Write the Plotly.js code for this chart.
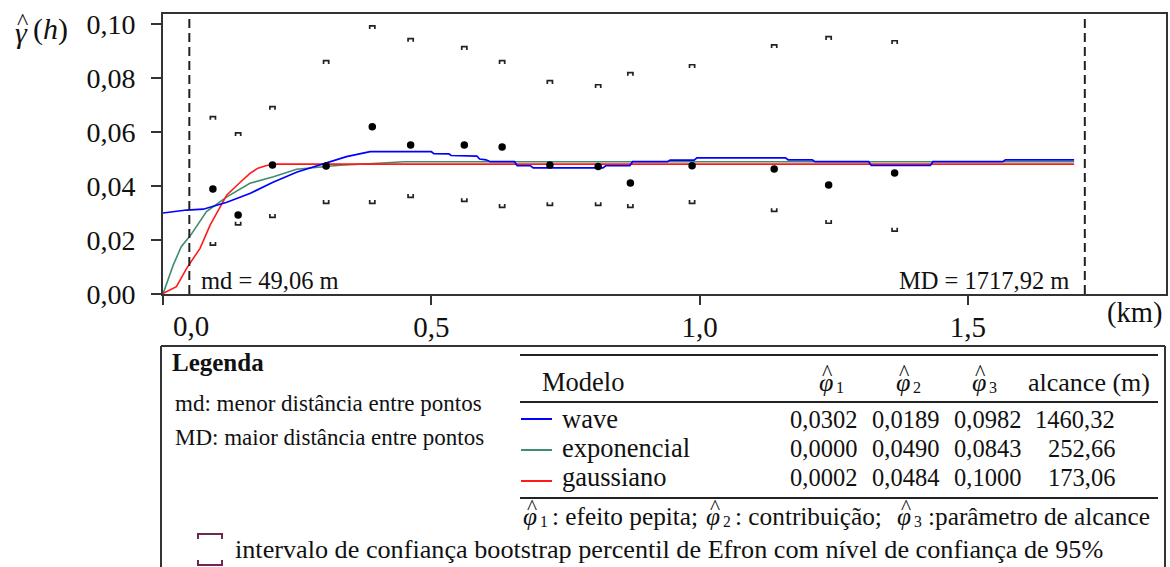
<!DOCTYPE html>
<html>
<head>
<meta charset="utf-8">
<script src="https://cdn.plot.ly/plotly-3.0.1.min.js"></script>
<style>html,body{margin:0;padding:0;background:#fff;}#chart{width:1170px;height:567px;}</style>
</head>
<body>
<div id="chart"></div>
<script>
// ---------- data ----------
const lagKm    = [0.093, 0.140, 0.204, 0.304, 0.390, 0.4615, 0.5615, 0.632, 0.721, 0.811, 0.871, 0.986, 1.139, 1.2405, 1.3635];
const semivar  = [0.0389, 0.0293, 0.0478, 0.0474, 0.0619, 0.0552, 0.0552, 0.0544, 0.0478, 0.0472, 0.0411, 0.0475, 0.0463, 0.0404, 0.0448];
const ciUpper  = [0.0657, 0.0597, 0.0694, 0.0864, 0.0993, 0.0946, 0.0916, 0.0864, 0.0790, 0.0775, 0.0820, 0.0849, 0.0923, 0.0953, 0.0938];
const ciLower  = [0.0181, 0.0256, 0.0284, 0.0336, 0.0336, 0.0358, 0.0343, 0.0321, 0.0328, 0.0328, 0.0321, 0.0336, 0.0306, 0.0262, 0.0233];

const waveX = [0.000, 0.044, 0.075, 0.119, 0.163, 0.205, 0.250, 0.305, 0.342, 0.386, 0.500, 0.505, 0.533, 0.537, 0.585, 0.590, 0.602, 0.610, 0.655, 0.660, 0.685, 0.690, 0.820, 0.825, 0.870, 0.875, 0.940, 0.945, 0.990, 0.995, 1.160, 1.165, 1.210, 1.215, 1.315, 1.320, 1.430, 1.435, 1.565, 1.570, 1.698];
const waveY = [0.0300, 0.0311, 0.0314, 0.0340, 0.0373, 0.0414, 0.0452, 0.0486, 0.0509, 0.0527, 0.0527, 0.0520, 0.0519, 0.0513, 0.0511, 0.0500, 0.0497, 0.0490, 0.0490, 0.0475, 0.0475, 0.0467, 0.0467, 0.0475, 0.0475, 0.0490, 0.0490, 0.0496, 0.0496, 0.0504, 0.0504, 0.0497, 0.0497, 0.0490, 0.0490, 0.0476, 0.0476, 0.0490, 0.0490, 0.0497, 0.0497];
const expX  = [0.000, 0.019, 0.034, 0.052, 0.081, 0.119, 0.162, 0.206, 0.249, 0.300, 0.330, 0.400, 0.450, 1.698];
const expY  = [0.0000, 0.0107, 0.0175, 0.0219, 0.0305, 0.0360, 0.0410, 0.0434, 0.0462, 0.0472, 0.0477, 0.0484, 0.0490, 0.0490];
const gauX  = [0.000, 0.025, 0.044, 0.069, 0.088, 0.106, 0.119, 0.143, 0.162, 0.177, 0.193, 0.212, 1.698];
const gauY  = [0.0002, 0.0027, 0.0095, 0.0169, 0.0256, 0.0318, 0.0367, 0.0412, 0.0447, 0.0466, 0.0476, 0.0481, 0.0481];

const mdKm = 0.04906, MDKm = 1.71792;
const mdLabel = 'md = 49,06 m', MDLabel = 'MD = 1717,92 m';

const yTickVals = [0, 0.02, 0.04, 0.06, 0.08, 0.10];
const xTickVals = [0, 0.5, 1.0, 1.5];
const xTickText = ['', '0,5', '1,0', '1,5'];
const xZeroLabel = '0,0';
const xUnit = '(km)';

const modelNames = ['wave', 'exponencial', 'gaussiano'];
const modelColors = ['#0000FF', '#3E8E6E', '#FF1A1A'];
const phi1 = ['0,0302', '0,0000', '0,0002'];
const phi2 = ['0,0189', '0,0490', '0,0484'];
const phi3 = ['0,0982', '0,0843', '0,1000'];
const alcance = ['1460,32', '252,66', '173,06'];
const phiSym = 'φ';
const headers = ['Modelo', 'alcance (m)'];
const legendTitle = 'Legenda';
const notes = ['md: menor distância entre pontos', 'MD: maior distância entre pontos'];
const footParts = [': efeito pepita;', ': contribuição;', ':parâmetro de alcance'];
const ciNote = 'intervalo de confiança bootstrap percentil de Efron com nível de confiança de 95%';

// ---------- layout helpers ----------
const L = 163, R = 1166, T = 14, B = 294, W = 1170, H = 567;
const PX = x => (x - L) / (R - L);
const PY = y => (B - y) / (B - T);
const xRange = [0, 1.8692], yRange = [0, 0.1037];
const SERIF = 'Liberation Serif';

// bracket paths built from the CI arrays
const bw = 0.0048, bh = 0.0012;
function brackets(vals, dir) {
  const xs = [], ys = [];
  lagKm.forEach((x, i) => {
    const y = vals[i];
    xs.push(x - bw, x - bw, x + bw, x + bw, null);
    ys.push(y + dir * bh, y, y, y + dir * bh, null);
  });
  return {xs, ys};
}
const up = brackets(ciUpper, -1), lo = brackets(ciLower, 1);

const traces = [
  {x: expX, y: expY, mode: 'lines', line: {color: modelColors[1], width: 1.6}, hoverinfo: 'skip'},
  {x: gauX, y: gauY, mode: 'lines', line: {color: modelColors[2], width: 1.6}, hoverinfo: 'skip'},
  {x: waveX, y: waveY, mode: 'lines', line: {color: modelColors[0], width: 1.7}, hoverinfo: 'skip'},
  {x: up.xs, y: up.ys, mode: 'lines', line: {color: '#222', width: 1.7}, connectgaps: false, hoverinfo: 'skip'},
  {x: lo.xs, y: lo.ys, mode: 'lines', line: {color: '#222', width: 1.7}, connectgaps: false, hoverinfo: 'skip'},
  {x: lagKm, y: semivar, mode: 'markers', marker: {color: '#000', size: 7.5, symbol: 'circle'}, hoverinfo: 'skip'}
];

const ann = [];
function txt(text, x, y, size, xanchor) {
  ann.push({text, xref: 'paper', yref: 'paper', x: PX(x), y: PY(y), xanchor: xanchor || 'left', yanchor: 'middle',
    showarrow: false, font: {family: SERIF, size: size, color: '#111'}});
}
// phi-hat with subscript: phi glyph + separate hat + subscript
function phiHat(xc, y, n, size) {
  txt('<i>' + phiSym + '</i>', xc, y, size, 'center');
  txt('^', xc + 1.5, y - size * 0.36, size * 0.85, 'center');
  txt(String(n), xc + size * 0.3, y + size * 0.22, size * 0.62, 'left');
}
// axis decorations
txt('<i>γ</i>', 21, 33, 30, 'center');
txt('^', 22.5, 21, 24, 'center');
txt('(<i>h</i>)', 31, 29, 30, 'left');
txt(xUnit, 1164, 313, 28.5, 'right');
txt(xZeroLabel, 191, 326, 29, 'center');
txt(mdLabel, 199, 280, 24.5, 'left');
txt(MDLabel, 1071, 280, 24.5, 'right');
// legend box texts
txt('<b>' + legendTitle + '</b>', 170, 362, 25, 'left');
txt(notes[0], 173, 403, 23, 'left');
txt(notes[1], 173, 437, 23, 'left');
// table
const rowY = [419, 448, 477];
const hdrY = 382;
txt(headers[0], 540, hdrY, 26.5, 'left');
phiHat(826, hdrY, 1, 26);
phiHat(903, hdrY, 2, 26);
phiHat(979, hdrY, 3, 26);
txt(headers[1], 1152, hdrY, 26, 'right');
modelNames.forEach((m, i) => {
  txt(m, 560, rowY[i], 26.5, 'left');
  txt(phi1[i], 823, rowY[i], 24.5, 'center');
  txt(phi2[i], 905.5, rowY[i], 24.5, 'center');
  txt(phi3[i], 987.5, rowY[i], 24.5, 'center');
  txt(alcance[i], 1117, rowY[i], 24.5, 'right');
});
// footnote: three phi-hat groups + texts
phiHat(530, 516, 1, 25.3);
txt(footParts[0], 550, 516, 25.3, 'left');
phiHat(713, 516, 2, 25.3);
txt(footParts[1], 733, 516, 25.3, 'left');
phiHat(904, 516, 3, 25.3);
txt(footParts[2], 926, 516, 25.3, 'left');
txt(ciNote, 233, 549, 26.2, 'left');

const shapes = [];
function seg(x0, y0, x1, y1, color, width) {
  shapes.push({type: 'line', xref: 'paper', yref: 'paper', x0: PX(x0), y0: PY(y0), x1: PX(x1), y1: PY(y1),
    line: {color, width}});
}
// md / MD dashed lines (data x)
[mdKm, MDKm].forEach(v => shapes.push({type: 'line', xref: 'x', yref: 'paper', x0: v, x1: v, y0: 0, y1: 1,
  line: {color: '#222', width: 2, dash: '9px,5px'}}));
// legend box
seg(161, 346, 1165, 346, '#333', 2);
seg(161, 346, 161, 570, '#333', 2);
seg(1165, 346, 1165, 570, '#333', 2);
// table rules
seg(520, 355, 1158, 355, '#222', 2);
seg(520, 402, 1158, 402, '#222', 2);
seg(520, 498, 1158, 498, '#222', 2);
// table line samples
[419, 450, 481].forEach((y, i) => seg(521, y, 552, y, modelColors[i], 2));
// CI legend symbol
shapes.push({type: 'path', xref: 'paper', yref: 'paper', line: {color: '#702850', width: 2},
  path: `M${PX(198)},${PY(539)} L${PX(198)},${PY(534)} L${PX(222)},${PY(534)} L${PX(222)},${PY(539)}`});
shapes.push({type: 'path', xref: 'paper', yref: 'paper', line: {color: '#702850', width: 2},
  path: `M${PX(198)},${PY(560)} L${PX(198)},${PY(565)} L${PX(222)},${PY(565)} L${PX(222)},${PY(560)}`});

const layout = {
  width: W, height: H,
  margin: {l: L, r: W - R, t: T, b: H - B, pad: 0},
  paper_bgcolor: '#fff', plot_bgcolor: '#fff',
  showlegend: false,
  separators: ',.',
  font: {family: SERIF, color: '#111'},
  xaxis: {range: xRange, tickvals: xTickVals, ticktext: xTickText, ticks: 'outside', ticklen: 9, tickwidth: 2, tickcolor: '#333',
    showline: true, linecolor: '#333', linewidth: 2, mirror: true, showgrid: false, zeroline: false,
    tickfont: {family: SERIF, size: 29, color: '#111'}, ticklabelstandoff: -3},
  yaxis: {range: yRange, tickvals: yTickVals, tickformat: '.2f', ticks: 'outside', ticklen: 10, tickwidth: 2, tickcolor: '#333',
    showline: true, linecolor: '#333', linewidth: 2, mirror: true, showgrid: false, zeroline: false,
    tickfont: {family: SERIF, size: 28, color: '#111'}, ticklabelstandoff: 10},
  annotations: ann,
  shapes: shapes
};

Plotly.newPlot('chart', traces, layout, {staticPlot: true, displayModeBar: false});
</script>
</body>
</html>
